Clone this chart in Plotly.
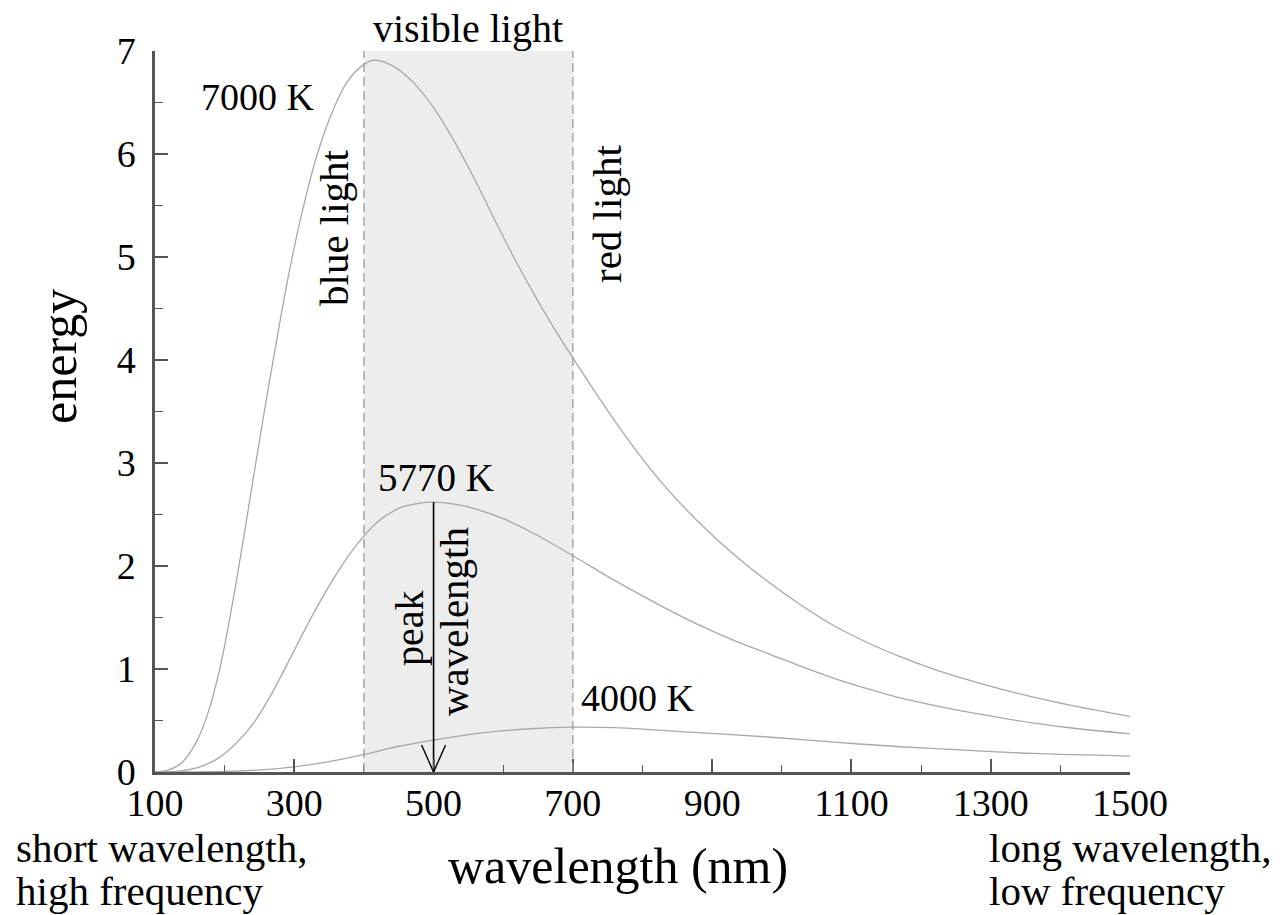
import plotly.graph_objects as go

# ---- data ----
wl_7000 = [100, 120, 140, 160, 175, 193, 207, 220, 232, 244, 257, 270, 282, 294, 310, 330, 350, 375,
           400, 415, 440, 470, 500, 530, 560, 590, 615, 645, 672, 700, 730, 780, 830, 880, 930, 980,
           1030, 1075, 1125, 1170, 1220, 1270, 1315, 1360, 1410, 1500]
e_7000 = [0, 0.02, 0.10, 0.30, 0.55, 1.0, 1.48, 1.98, 2.47, 2.97, 3.5, 4.01, 4.47, 4.9, 5.4, 5.93, 6.33, 6.69,
          6.87, 6.91, 6.86, 6.70, 6.45, 6.12, 5.74, 5.33, 5.0, 4.63, 4.32, 4.02, 3.71, 3.22, 2.79, 2.43, 2.12, 1.85,
          1.61, 1.42, 1.25, 1.12, 0.995, 0.89, 0.805, 0.73, 0.655, 0.54]

wl_5770 = [100, 130, 160, 190, 215, 240, 265, 290, 315, 340, 365, 390, 420, 450, 480, 500, 530, 560,
           600, 640, 700, 760, 830, 880, 930, 980, 1030, 1075, 1125, 1170, 1220, 1270, 1315, 1360, 1410, 1500]
e_5770 = [0, 0.005, 0.04, 0.13, 0.27, 0.46, 0.73, 1.05, 1.38, 1.69, 1.97, 2.21, 2.43, 2.56, 2.61, 2.62, 2.60, 2.555,
          2.46, 2.33, 2.10, 1.86, 1.60, 1.43, 1.28, 1.15, 1.02, 0.91, 0.805, 0.72, 0.645, 0.578, 0.525, 0.477,
          0.432, 0.37]

wl_4000 = [100, 200, 250, 300, 350, 400, 450, 500, 570, 640, 700, 760, 860, 980, 1075, 1170, 1270, 1360, 1500]
e_4000 = [0, 0.005, 0.02, 0.05, 0.10, 0.17, 0.25, 0.31, 0.38, 0.42, 0.435, 0.43, 0.39, 0.34, 0.29, 0.245,
          0.21, 0.18, 0.155]

visible_band = [400, 700]          # nm
peak_wavelength = 500              # nm, 5770 K
peak_energy = 2.62

x_range = [100, 1500]
y_range = [0, 7]
x_ticks = [100, 300, 500, 700, 900, 1100, 1300, 1500]
y_ticks = [0, 1, 2, 3, 4, 5, 6, 7]

# ---- style ----
FONT = "Liberation Serif"
CURVE = "#a8a8a8"
AXIS = "#555555"

W, H = 1282, 915
# plot area in page pixels
PL, PR, PT, PB = 155, 1130, 51, 772
ML, MT = PL, PT
MR = W - PR
MB = H - PB


def pp_x(px):
    return (px - PL) / (PR - PL)


def pp_y(py):
    return (PB - py) / (PB - PT)


fig = go.Figure()

for wl, e in [(wl_7000, e_7000), (wl_5770, e_5770), (wl_4000, e_4000)]:
    fig.add_trace(go.Scatter(x=wl, y=e, mode="lines",
                             line=dict(color=CURVE, width=1.3, shape="spline", smoothing=1.0),
                             hoverinfo="skip", showlegend=False))

# peak wavelength arrow shaft
fig.add_trace(go.Scatter(x=[peak_wavelength, peak_wavelength], y=[0, peak_energy], mode="lines",
                         line=dict(color="black", width=1.6), hoverinfo="skip", showlegend=False))

shapes = [
    dict(type="rect", xref="x", yref="y", x0=visible_band[0], x1=visible_band[1], y0=y_range[0], y1=y_range[1],
         fillcolor="#ededed", line=dict(width=0), layer="below"),
]
for v in visible_band:
    shapes.append(dict(type="line", xref="x", yref="y", x0=v, x1=v, y0=y_range[0], y1=y_range[1],
                       line=dict(color="#9a9a9a", width=1.3, dash="9px,5px"), layer="above"))
# open arrow head
for dx in (-12, 12):
    shapes.append(dict(type="line", xref="x", yref="y", xsizemode="pixel", ysizemode="pixel",
                       xanchor=peak_wavelength, yanchor=0, x0=0, x1=dx, y0=0, y1=27,
                       line=dict(color="black", width=1.4)))

ann = []


def text(t, px, py, size=40, angle=0, xanchor="center"):
    ann.append(dict(text=t, x=pp_x(px), y=pp_y(py), xref="paper", yref="paper", showarrow=False,
                    textangle=angle, xanchor=xanchor, yanchor="middle",
                    font=dict(family=FONT, size=size, color="black")))


text("visible light", 468, 28, 40)
text("7000 K", 258, 97, 38)
text("blue light", 334, 228, 41, -90)
text("red light", 607, 214, 41, -90)
text("5770 K", 436, 478, 39)
text("peak", 409, 628, 40, -90)
text("wavelength", 454, 622, 41, -90)
text("4000 K", 638, 698, 38)
text("energy", 59, 357, 50, -90)
text("wavelength (nm)", 618, 866, 50)
text("short wavelength,", 14, 848, 41, xanchor="left")
text("high frequency", 14, 891, 41, xanchor="left")
text("long wavelength,", 987, 848, 41, xanchor="left")
text("low frequency", 987, 891, 41, xanchor="left")

fig.update_layout(
    width=W, height=H,
    margin=dict(l=ML, r=MR, t=MT, b=MB),
    paper_bgcolor="white", plot_bgcolor="white",
    shapes=shapes, annotations=ann,
    font=dict(family=FONT, size=38, color="black"),
)
fig.update_xaxes(range=x_range, tickvals=x_ticks, ticktext=[str(v) for v in x_ticks],
                 showgrid=False, zeroline=False, showline=True, linecolor=AXIS, linewidth=2.5,
                 ticks="inside", ticklen=13, tickwidth=1.5, tickcolor=AXIS, ticklabelstandoff=-4,
                 tickfont=dict(family=FONT, size=38, color="black"),
                 minor=dict(ticks="inside", ticklen=7, tickwidth=1.2, tickcolor=AXIS, dtick=100, tick0=100))
fig.update_yaxes(range=y_range, tickvals=y_ticks, ticktext=[str(v) for v in y_ticks],
                 showgrid=False, zeroline=False, showline=True, linecolor=AXIS, linewidth=2.5,
                 ticks="inside", ticklen=13, tickwidth=1.5, tickcolor=AXIS, ticklabelstandoff=9,
                 tickfont=dict(family=FONT, size=38, color="black"),
                 minor=dict(ticks="inside", ticklen=8, tickwidth=1.2, tickcolor=AXIS, dtick=0.5, tick0=0))

fig.write_html("out.html", config={"displayModeBar": False},
               post_script="document.body.style.margin='0';document.body.style.overflow='hidden';")
